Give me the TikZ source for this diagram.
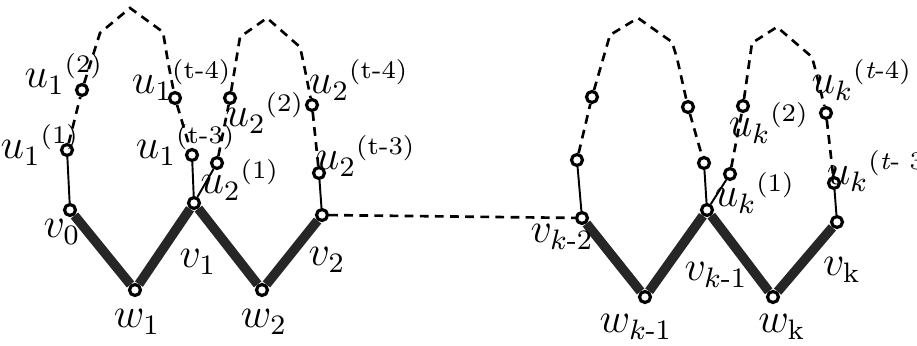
\documentclass[tikz,border=0pt]{standalone}
\usepackage{amsmath}
\newcommand{\upidx}[1]{\text{\fontsize{7.2}{8}\selectfont #1}}

\begin{document}
\begin{tikzpicture}[x=0.01cm,y=-0.01cm,font=\large,
  vtx/.style={circle,draw,line width=0.9pt,fill=white,inner sep=0pt,minimum size=0.11cm},
  heavy/.style={line width=2.7pt,black!85},
  stem/.style={line width=0.55pt},
  dashline/.style={line width=0.75pt,dash pattern=on 2.5pt off 1.8pt}]
\useasboundingbox (0,0) rectangle (917,345);
% vertices
\foreach \n/\x/\y in {v0/70/210,w1/135/290,v1/194/203,w2/262/290,v2/322/215,
  vk2/582/218,wk1/645/297,vk1/707/210,wk/773/297,vk/837/222}{\node[vtx] (\n) at (\x,\y) {};}
\foreach \n/\x/\y in {u1a/67/150,u1b/82/90,u1c/175/98,u1d/192/155,
  u2a/217/163,u2b/230/98,u2c/312/105,u2d/319/173,
  xa/577/160,xb/592/97,xc/688/107,xd/704/163,
  uka/730/174,ukb/743/106,ukc/826/113,ukd/834/183}{\node[vtx] (\n) at (\x,\y) {};}
% heavy path
\draw[heavy] (v0)--(w1)--(v1)--(w2)--(v2);
\draw[heavy] (vk2)--(wk1)--(vk1)--(wk)--(vk);
\draw[dashline] (v2)--(vk2);
% stems
\draw[stem] (v0)--(u1a); \draw[stem] (v1)--(u1d); \draw[stem] (v1)--(u2a); \draw[stem] (v2)--(u2d);
\draw[stem] (vk2)--(xa); \draw[stem] (vk1)--(xd); \draw[stem] (vk1)--(uka); \draw[stem] (vk)--(ukd);
% loops
\draw[dashline] (u1a)--(u1b)--(100,33)--(130,8)--(163,32)--(168,62)--(u1c)--(u1d);
\draw[dashline] (u2a)--(u2b)--(240,37)--(267,18)--(300,47)--(304,65)--(u2c)--(u2d);
\draw[dashline] (xa)--(xb)--(610,35)--(638,18)--(672,42)--(677,58)--(xc)--(xd);
\draw[dashline] (uka)--(ukb)--(752,43)--(777,27)--(812,57)--(816,72)--(ukc)--(ukd);
% labels
\foreach \n/\x/\y/\t in {lu1a/40/145/{${u_1}^{\upidx{(1)}}$},lu1b/64/74/{${u_1}^{\upidx{(2)}}$},
  lu1c/182/80/{${u_1}^{\upidx{(t-4)}}$},lu1d/186/145/{${u_1}^{\upidx{(t-3)}}$},
  lu2a/240/180/{${u_2}^{\upidx{(1)}}$},lu2b/265/113/{${u_2}^{\upidx{(2)}}$},
  lu2c/359/80/{${u_2}^{\upidx{(t-4)}}$},lu2d/366/156/{${u_2}^{\upidx{(t-3)}}$},
  luka/755/193/{${u_k}^{\upidx{(1)}}$},lukb/769/123/{${u_k}^{\upidx{(2)}}$},
  lukc/862/80/{${u_k}^{\upidx{(\textit{t}-4)}}$},lukd/882/171/{${u_k}^{\upidx{(\textit{t}- 3)}}$}}{\node (\n) at (\x,\y) {\t};}
\foreach \n/\x/\y/\t in {lv0/62/232/{$v_0$},lw1/137/322/{$w_1$},lv1/198/262/{$v_1$},
  lw2/264/322/{$w_2$},lv2/327/260/{$v_2$},lvk2/562/237/{$v_{k\text{-}2}$},
  lwk1/636/327/{$w_{k\text{-}1}$},lvk1/716/275/{$v_{k\text{-}1}$},
  lwk/782/327/{$w_{\text{k}}$},lvk/842/270/{$v_{\text{k}}$}}{\node (\n) at (\x,\y) {\t};}
\end{tikzpicture}
\end{document}
